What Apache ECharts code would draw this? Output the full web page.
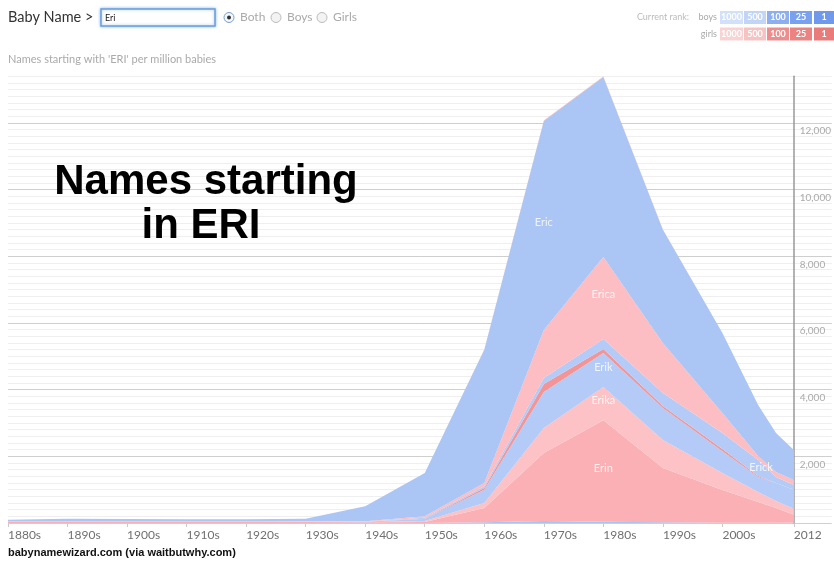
<!DOCTYPE html>
<html>
<head>
<meta charset="utf-8">
<script src="https://cdn.jsdelivr.net/npm/echarts@6.0.0/dist/echarts.min.js"></script>
<style>
  html, body { margin: 0; padding: 0; background: #fff; }
  #chart { width: 834px; height: 565px; }
</style>
</head>
<body>
<div id="chart"></div>
<script>
// ---- data (per million babies) ----
const years      = [1880, 1890, 1900, 1910, 1920, 1930, 1940, 1950, 1960, 1970, 1980, 1990, 2000, 2006, 2009, 2012];
// layers, bottom to top (values are per layer, stacked)
const erinBoys   = [0,    0,    0,    0,    0,    0,    0,    0,    20,   60,   40,   20,   10,   5,    5,    5];
const erin       = [30,   30,   30,   30,   30,   30,   20,   30,   430,  2040, 3040, 1630, 980,  625,  445,  245];
const erika      = [5,    5,    5,    5,    5,    5,    5,    30,   150,  750,  1000, 840,  510,  300,  210,  180];
const erik       = [5,    5,    5,    5,    5,    5,    10,   60,   400,  1080, 1020, 960,  650,  450,  540,  570];
const ericka     = [0,    0,    0,    0,    0,    0,    0,    10,   50,   240,  120,  60,   70,   30,   0,    0];
const erick      = [0,    0,    0,    0,    0,    5,    5,    30,   50,   180,  300,  390,  480,  480,  180,  140];
const erica      = [5,    5,    5,    5,    5,    5,    10,   40,   100,  1440, 2460, 1500, 600,  120,  150,  150];
const eric       = [55,   85,   75,   65,   65,   80,   450,  1300, 4000, 6270, 5400, 3400, 2400, 1530, 1170, 900];
const ericGirls  = [0,    0,    0,    0,    0,    0,    0,    0,    5,    15,   15,   5,    0,    0,    0,    0];

const seriesNames  = ['Erin (boys)', 'Erin', 'Erika', 'Erik', 'Ericka', 'Erick', 'Erica', 'Eric', 'Eric (girls)'];
const seriesValues = [erinBoys, erin, erika, erik, ericka, erick, erica, eric, ericGirls];
const seriesColors = ['#a9c3f4', '#fab0b5', '#fcc2c5', '#b4cbf7', '#f39597', '#b4cbf7', '#fcbec2', '#abc5f5', '#f7a8ab'];

// name labels inside the stream
const labelNames  = ['Eric', 'Erica', 'Erik', 'Erika', 'Erin', 'Erick'];
const labelYears  = [1970,   1980,    1980,   1980,    1980,   2006.5];
const labelValues = [9030,   6870,    4680,   3690,    1650,   1680];

const decadeTicks = [1880, 1890, 1900, 1910, 1920, 1930, 1940, 1950, 1960, 1970, 1980, 1990, 2000, 2012];
const rankLevels  = ['1000', '500', '100', '25', '1'];

// ---- chart ----
const chart = echarts.init(document.getElementById('chart'), null, { renderer: 'canvas' });

const gridColors = ['#cfcfcf', '#efefef', '#efefef', '#efefef', '#efefef', '#efefef', '#efefef', '#efefef', '#efefef', '#efefef'];

// value column first so the stack runs along the y axis
const series = seriesNames.map((name, si) => ({
  name: name,
  type: 'line',
  stack: 'total',
  symbol: 'none',
  smooth: false,
  lineStyle: { width: 0 },
  areaStyle: { color: seriesColors[si], opacity: 1 },
  emphasis: { disabled: true },
  dimensions: ['value', 'year'],
  encode: { x: 'year', y: 'value' },
  data: years.map((y, i) => [seriesValues[si][i], y]),
  z: 2
}));

series.push({
  name: 'labels',
  type: 'scatter',
  symbolSize: 0,
  z: 5,
  data: labelNames.map((n, i) => [labelYears[i], labelValues[i], n]),
  label: {
    show: true,
    position: 'inside',
    color: '#ffffff',
    fontFamily: 'Lato',
    fontSize: 11,
    formatter: p => p.value[2]
  }
});

const rankBoysColors  = ['#d3e0fa', '#c3d5f7', '#8dafef', '#7aa1ee', '#7099ec'];
const rankGirlsColors = ['#f9d2d2', '#f6c3c3', '#ee8d8d', '#ec8383', '#ea7b7b'];
const rankX = [720, 744, 767, 790, 814];
const rankW = [23, 22, 22, 22, 20];

const TOPZ = 100;
const graphics = [
  { type: 'text', x: 8, y: 17, style: { text: 'Baby Name >', font: '14.5px Lato', fill: '#333', textVerticalAlign: 'middle' } },
  { type: 'rect', shape: { x: 101, y: 9, width: 114, height: 17 }, style: { fill: '#fff', stroke: '#6a9fdc', lineWidth: 1.5, shadowBlur: 3, shadowColor: 'rgba(90,150,220,0.6)' } },
  { type: 'text', x: 105, y: 18, style: { text: 'Eri', font: '9px Lato', fill: '#222', textVerticalAlign: 'middle' } },
  { type: 'circle', shape: { cx: 229, cy: 17.5, r: 5 }, style: { fill: '#f4f7fb', stroke: '#7a9ed0', lineWidth: 1 } },
  { type: 'circle', shape: { cx: 229, cy: 17.5, r: 2 }, style: { fill: '#333' } },
  { type: 'text', x: 240, y: 17.5, style: { text: 'Both', font: '12px Lato', fill: '#aaa', textVerticalAlign: 'middle' } },
  { type: 'circle', shape: { cx: 276, cy: 17.5, r: 5 }, style: { fill: '#f3f3f3', stroke: '#bbb', lineWidth: 1 } },
  { type: 'text', x: 287, y: 17.5, style: { text: 'Boys', font: '12px Lato', fill: '#aaa', textVerticalAlign: 'middle' } },
  { type: 'circle', shape: { cx: 322, cy: 17.5, r: 5 }, style: { fill: '#f3f3f3', stroke: '#bbb', lineWidth: 1 } },
  { type: 'text', x: 333, y: 17.5, style: { text: 'Girls', font: '12px Lato', fill: '#aaa', textVerticalAlign: 'middle' } },
  { type: 'text', x: 8, y: 59, style: { text: "Names starting with 'ERI' per million babies", font: '11px Lato', fill: '#aaa', textVerticalAlign: 'middle' } },
  { type: 'text', x: 689, y: 17.5, style: { text: 'Current rank:', font: '9px Lato', fill: '#bbb', textAlign: 'right', textVerticalAlign: 'middle' } },
  { type: 'text', x: 717, y: 17.5, style: { text: 'boys', font: '9px Lato', fill: '#aaa', textAlign: 'right', textVerticalAlign: 'middle' } },
  { type: 'text', x: 717, y: 34, style: { text: 'girls', font: '9px Lato', fill: '#aaa', textAlign: 'right', textVerticalAlign: 'middle' } },
  { type: 'text', z: TOPZ, x: 206, y: 182, style: { text: 'Names starting', font: 'bold 42px "Liberation Sans"', fill: '#000', textAlign: 'center', textVerticalAlign: 'middle' } },
  { type: 'text', z: TOPZ, x: 201, y: 226, style: { text: 'in ERI', font: 'bold 42px "Liberation Sans"', fill: '#000', textAlign: 'center', textVerticalAlign: 'middle' } },
  { type: 'text', x: 8, y: 553, style: { text: 'babynamewizard.com (via waitbutwhy.com)', font: 'bold 11px "Liberation Sans"', fill: '#111', textVerticalAlign: 'middle' } }
];
rankLevels.forEach((lvl, i) => {
  graphics.push({ type: 'rect', shape: { x: rankX[i], y: 11, width: rankW[i], height: 13 }, style: { fill: rankBoysColors[i] } });
  graphics.push({ type: 'rect', shape: { x: rankX[i], y: 27.5, width: rankW[i], height: 13 }, style: { fill: rankGirlsColors[i] } });
  graphics.push({ type: 'text', x: rankX[i] + rankW[i] / 2, y: 17.5, style: { text: lvl, font: 'bold 9px Lato', fill: '#fff', textAlign: 'center', textVerticalAlign: 'middle' } });
  graphics.push({ type: 'text', x: rankX[i] + rankW[i] / 2, y: 34, style: { text: lvl, font: 'bold 9px Lato', fill: '#fff', textAlign: 'center', textVerticalAlign: 'middle' } });
});

chart.setOption({
  animation: false,
  backgroundColor: '#ffffff',
  grid: { left: 8, right: 0, top: 76.33, bottom: 42, containLabel: false },
  xAxis: {
    type: 'value',
    min: 1880,
    max: 2018.36,
    interval: 10,
    axisLine: { show: false },
    splitLine: { show: false },
    axisTick: { show: true, customValues: decadeTicks, length: 4, lineStyle: { color: '#ccc' } },
    axisLabel: {
      customValues: decadeTicks,
      align: 'left',
      margin: 6,
      color: '#707070',
      fontFamily: 'Lato',
      fontSize: 12,
      formatter: v => (v === 2012 ? '2012' : v + 's')
    }
  },
  yAxis: {
    type: 'value',
    position: 'right',
    offset: -38,
    min: 0,
    max: 13400,
    interval: 200,
    axisLine: { show: true, lineStyle: { color: '#999', width: 1.5 } },
    axisTick: { show: false },
    splitLine: { show: true, lineStyle: { color: gridColors, width: 1 } },
    axisLabel: {
      margin: 6,
      color: '#aaa',
      fontFamily: 'Lato',
      fontSize: 10,
      verticalAlign: 'top',
      padding: [3, 0, 0, 0],
      formatter: v => (v > 0 && Math.round(v) % 2000 === 0 ? Math.round(v).toLocaleString('en-US') : '')
    }
  },
  graphic: { elements: graphics },
  series: series
});
</script>
</body>
</html>
